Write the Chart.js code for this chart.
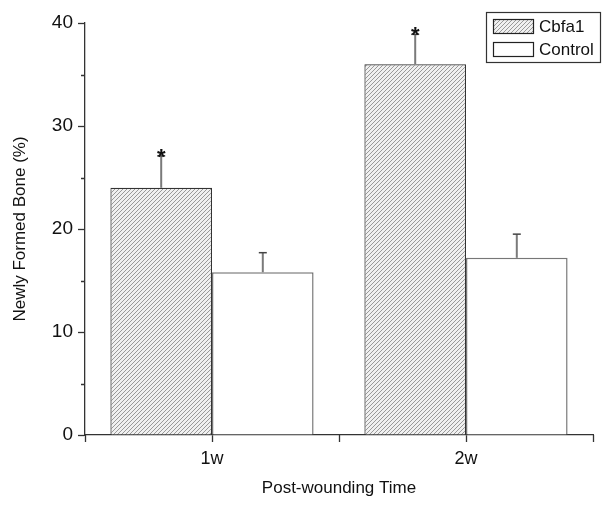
<!DOCTYPE html>
<html lang="en">

<head>
    <meta charset="UTF-8">
    <title>Newly Formed Bone</title>
    <script src="https://cdn.jsdelivr.net/npm/chart.js"></script>
    <style>
        html, body { margin: 0; padding: 0; background: #fff; }
        .chart-container { width: 612px; height: 511px; }
    </style>
</head>

<body>
    <div class="chart-container">
        <canvas id="myChart" width="612" height="511"></canvas>
    </div>

    <script>
        // Data
        const categories = ['1w', '2w'];
        const cbfa1Values = [24.0, 36.0];
        const cbfa1Errors = [3.1, 2.9];
        const controlValues = [15.8, 17.2];
        const controlErrors = [1.9, 2.3];
        const cbfa1Significant = [true, true]; // asterisks above Cbfa1 bars
        const yTickValues = [0, 10, 20, 30, 40];
        const yMinorTicks = [5, 15, 25, 35];

        const FONT = '"Liberation Sans", Arial, Helvetica, sans-serif';
        const AXIS = '#333';
        const TEXT = '#111';

        // hatched fill for the Cbfa1 bars
        function makeHatch() {
            var c = document.createElement('canvas');
            c.width = 4; c.height = 4;
            var g = c.getContext('2d');
            g.fillStyle = '#f0f0f0';
            g.fillRect(0, 0, 4, 4);
            g.strokeStyle = '#999';
            g.lineWidth = 1;
            g.beginPath();
            g.moveTo(0, 4); g.lineTo(4, 0);
            g.moveTo(-1, 1); g.lineTo(1, -1);
            g.moveTo(3, 5); g.lineTo(5, 3);
            g.stroke();
            return g.createPattern(c, 'repeat');
        }
        const hatch = makeHatch();

        const errors = [cbfa1Errors, controlErrors];

        // error bars, asterisks, minor ticks and the boxed legend
        const extras = {
            id: 'extras',
            afterDatasetsDraw(chart) {
                const ctx = chart.ctx;
                const y = chart.scales.y;
                const x = chart.scales.x;
                const area = chart.chartArea;
                ctx.save();

                chart.data.datasets.forEach(function (ds, di) {
                    const meta = chart.getDatasetMeta(di);
                    meta.data.forEach(function (bar, i) {
                        const top = y.getPixelForValue(ds.data[i] + errors[di][i]);
                        ctx.strokeStyle = '#7a7a7a';
                        ctx.lineWidth = 2;
                        ctx.beginPath();
                        ctx.moveTo(bar.x, bar.y);
                        ctx.lineTo(bar.x, top);
                        ctx.stroke();
                        ctx.strokeStyle = '#444';
                        ctx.lineWidth = 1.5;
                        ctx.beginPath();
                        ctx.moveTo(bar.x - 4, top);
                        ctx.lineTo(bar.x + 4, top);
                        ctx.stroke();
                        if (di === 0 && cbfa1Significant[i]) {
                            ctx.fillStyle = TEXT;
                            ctx.font = 'bold 22px ' + FONT;
                            ctx.textAlign = 'center';
                            ctx.textBaseline = 'alphabetic';
                            ctx.fillText('*', bar.x, top + 8);
                        }
                    });
                });

                // minor ticks on y
                ctx.strokeStyle = AXIS;
                ctx.lineWidth = 1.3;
                ctx.beginPath();
                yMinorTicks.forEach(function (v) {
                    const py = Math.round(y.getPixelForValue(v)) + 0.5;
                    ctx.moveTo(area.left - 4, py);
                    ctx.lineTo(area.left, py);
                });
                // boundary ticks on x
                [-0.5, 0.5, 1.5].forEach(function (v) {
                    const px = Math.round(x.getPixelForValue(v)) + 0.5;
                    ctx.moveTo(px, area.bottom);
                    ctx.lineTo(px, area.bottom + 7);
                });
                ctx.stroke();

                // legend box
                const lx = 486, ly = 12, lw = 114, lh = 50;
                ctx.fillStyle = '#fff';
                ctx.fillRect(lx, ly, lw, lh);
                ctx.strokeStyle = '#333';
                ctx.lineWidth = 1.2;
                ctx.strokeRect(lx + 0.5, ly + 0.5, lw, lh);
                chart.data.datasets.forEach(function (ds, di) {
                    const sy = ly + 7 + di * 23;
                    ctx.fillStyle = ds.backgroundColor;
                    ctx.fillRect(lx + 7, sy, 40, 14);
                    ctx.strokeStyle = '#222';
                    ctx.lineWidth = 1.2;
                    ctx.strokeRect(lx + 7.5, sy + 0.5, 40, 14);
                    ctx.fillStyle = TEXT;
                    ctx.font = '17px ' + FONT;
                    ctx.textAlign = 'left';
                    ctx.textBaseline = 'middle';
                    ctx.fillText(ds.label, lx + 53, sy + 8);
                });

                ctx.restore();
            }
        };

        const data = {
            labels: categories,
            datasets: [{
                label: 'Cbfa1',
                data: cbfa1Values,
                backgroundColor: hatch,
                borderColor: '#333',
                borderWidth: 1.2,
                borderSkipped: 'bottom'
            }, {
                label: 'Control',
                data: controlValues,
                backgroundColor: '#fff',
                borderColor: '#777',
                borderWidth: 1.5,
                borderSkipped: 'bottom'
            }]
        };

        const config = {
            type: 'bar',
            data: data,
            options: {
                responsive: false,
                animation: false,
                layout: { padding: { top: 23, right: 19, left: 0, bottom: 0 } },
                datasets: { bar: { barPercentage: 1.0, categoryPercentage: 0.8 } },
                plugins: {
                    legend: { display: false },
                    tooltip: { enabled: false }
                },
                scales: {
                    x: {
                        afterFit: function (s) { s.height = 76; },
                        grid: {
                            offset: false,
                            drawOnChartArea: false,
                            tickLength: 7,
                            tickColor: AXIS,
                            tickWidth: 1.3
                        },
                        border: { color: AXIS, width: 1.3 },
                        ticks: {
                            color: TEXT,
                            padding: 6,
                            font: { family: FONT, size: 18 }
                        },
                        title: {
                            display: true,
                            text: 'Post-wounding Time',
                            color: TEXT,
                            font: { family: FONT, size: 17 },
                            padding: { top: 4, bottom: 12 }
                        }
                    },
                    y: {
                        min: 0,
                        max: 40,
                        afterFit: function (s) { s.width = 85; },
                        afterBuildTicks: function (s) {
                            s.ticks = yTickValues.map(function (v) { return { value: v }; });
                        },
                        grid: {
                            drawOnChartArea: false,
                            tickLength: 7,
                            tickColor: AXIS,
                            tickWidth: 1.3
                        },
                        border: { color: AXIS, width: 1.3 },
                        ticks: {
                            color: TEXT,
                            padding: 5,
                            font: { family: FONT, size: 19 }
                        },
                        title: {
                            display: true,
                            text: 'Newly Formed Bone (%)',
                            color: TEXT,
                            font: { family: FONT, size: 17 },
                            padding: { top: 10, bottom: 4 }
                        }
                    }
                }
            },
            plugins: [extras]
        };

        const myChart = new Chart(document.getElementById('myChart'), config);
    </script>
</body>

</html>
